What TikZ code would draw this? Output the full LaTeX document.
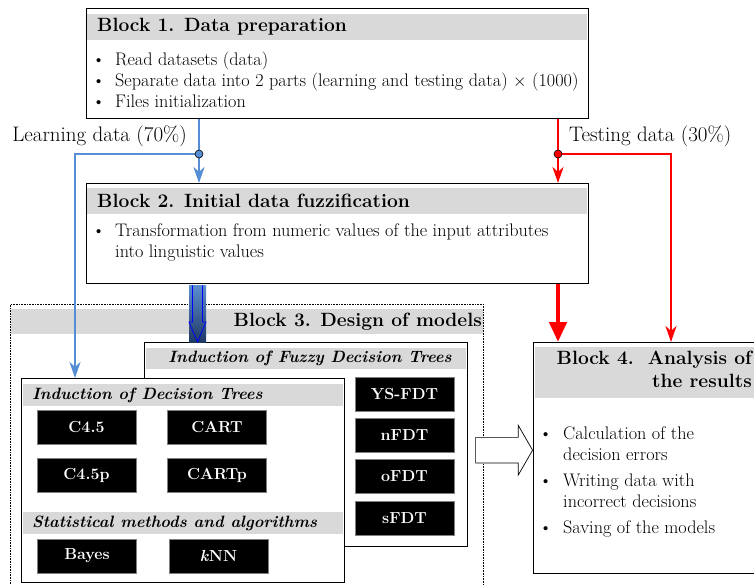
\documentclass[tikz,border=0pt]{standalone}
\usepackage{fontspec}
\usepackage{tikz}
\usetikzlibrary{arrows.meta,positioning,calc,shapes.arrows}
\definecolor{ink}{HTML}{000000}
\definecolor{bandgray}{HTML}{D9D9D9}
\definecolor{learnblue}{HTML}{558ED5}
\definecolor{testred}{HTML}{FF0000}
\definecolor{navy}{HTML}{1F3864}
\definecolor{steel}{HTML}{5B8FD0}
\tikzset{
  block/.style={draw=ink,line width=1.4pt,fill=white,anchor=north west,inner sep=0pt},
  band/.style={fill=bandgray,anchor=north west,inner sep=0pt},
  blocktitle/.style={font=\fontsize{19.2}{23}\selectfont\bfseries,inner sep=0pt},
  subtitle/.style={font=\fontsize{16.4}{18}\selectfont\bfseries\itshape,inner sep=0pt},
  bullets/.style={font=\fontsize{18.2}{21}\selectfont,align=left,inner sep=0pt,anchor=north west},
  lbl/.style={font=\fontsize{21}{23}\selectfont,inner sep=0pt},
  algo/.style={fill=black,draw=gray,line width=.4pt,text=white,minimum width=99pt,minimum height=34pt,inner sep=0pt,font=\fontsize{16}{18}\selectfont\bfseries},
  learn/.style={learnblue,line width=2.6pt},
  test/.style={testred,line width=2.6pt},
  splitdot/.style={circle,draw=ink,line width=.6pt,minimum size=8pt,inner sep=0pt},
  tip/.style={-{Stealth[length=16pt,width=11pt,inset=5pt]}},
}
\newcommand{\bitem}{\makebox[23pt][l]{\textbullet}}

\begin{document}
\begin{tikzpicture}[x=1pt,y=1pt]
  \useasboundingbox (0,0) rectangle (754,-584);
  \clip (0,0) rectangle (754,-584);
  % Block 1
  \node[block,minimum width=502pt,minimum height=110pt] (b1) at (86,-8) {};
  \node[band,minimum width=500pt,minimum height=26pt] (b1band) at (87,-14) {};
  \node[blocktitle,anchor=west] (b1title) at (97,-27) {Block 1. Data preparation};
  \node[bullets] (b1text) at (92,-51.5) {\bitem Read datasets (data)\\
    \bitem Separate data into 2 parts (learning and testing data) $\times$ (1000)\\
    \bitem Files initialization};
  % Block 2
  \node[block,minimum width=502pt,minimum height=100pt] (b2) at (86,-183) {};
  \node[band,minimum width=500pt,minimum height=26pt] (b2band) at (87,-188) {};
  \node[blocktitle,anchor=west] (b2title) at (97,-201) {Block 2. Initial data fuzzification};
  \node[bullets] (b2text) at (92,-224) {\bitem Transformation from numeric values of the input attributes\\
    \hspace*{23pt}into linguistic values};
  % Block 3
  \node[draw=ink,densely dotted,line width=.6pt,anchor=north west,minimum width=473pt,minimum height=300pt] (b3) at (10,-304) {};
  \node[band,minimum width=472pt,minimum height=25pt] (b3band) at (10.5,-309) {};
  \node[blocktitle,anchor=east] (b3title) at (482,-322) {Block 3. Design of models};
  \node[block,minimum width=323pt,minimum height=204pt] (fdt) at (144,-342) {};
  \node[band,minimum width=320pt,minimum height=21pt] (fdtband) at (145.5,-348) {};
  \node[subtitle] (fdttitle) at (310,-358) {Induction of Fuzzy Decision Trees};
  \node[block,minimum width=323pt,minimum height=204pt] (dt) at (21,-378) {};
  \node[band,minimum width=320pt,minimum height=22pt] (dtband) at (22.5,-384) {};
  \node[subtitle,anchor=west] (dttitle) at (32,-395) {Induction of Decision Trees};
  \node[band,minimum width=320pt,minimum height=22pt] (statband) at (22.5,-512) {};
  \node[subtitle,anchor=west] (stattitle) at (32,-523) {Statistical methods and algorithms};
  \node[algo] (c45) at (86.5,-427) {C4.5};
  \node[algo] (cart) at (217,-427) {CART};
  \node[algo] (c45p) at (86.5,-475) {C4.5p};
  \node[algo] (cartp) at (217,-475) {CARTp};
  \node[algo] (bayes) at (87,-556) {Bayes};
  \node[algo] (knn) at (218.5,-556) {\textit{k}NN};
  \node[algo] (ysfdt) at (404.5,-394) {YS-FDT};
  \node[algo] (nfdt) at (404.5,-435) {nFDT};
  \node[algo] (ofdt) at (404.5,-476) {oFDT};
  \node[algo] (sfdt) at (404.5,-518) {sFDT};
  % Block 4
  \node[block,minimum width=240pt,minimum height=231pt] (b4) at (533,-342) {};
  \node[band,minimum width=238pt,minimum height=51pt] (b4band) at (534.5,-347) {};
  \node[blocktitle,anchor=north east,align=right] (b4title) at (752,-351) {Block 4.\hspace{14pt}Analysis of\\the results};
  \node[bullets] (b4text) at (539,-427) {\makebox[24pt][l]{\textbullet}Calculation of the\\
    \hspace*{24pt}decision errors\\[5pt]
    \makebox[24pt][l]{\textbullet}Writing data with\\
    \hspace*{24pt}incorrect decisions\\[5pt]
    \makebox[24pt][l]{\textbullet}Saving of the models};
  \node[single arrow,draw=ink,fill=white,line width=.7pt,minimum height=57pt,
    single arrow head extend=12pt,single arrow tip angle=120,inner xsep=0pt,inner ysep=12.5pt,anchor=tip] (toresults)
    at ($(b4.west)+(0,8)$) {};
  % data split
  \node[lbl,anchor=east] (learnlbl) at (187,-136) {Learning data (70\%)};
  \node[lbl,anchor=west] (testlbl) at (569,-136) {Testing data (30\%)};
  \coordinate (lsplit) at (199,-154);
  \coordinate (lturn) at (75,-154);
  \coordinate (tsplit) at (558,-154);
  \coordinate (tturn) at (671,-154);
  \draw[learn] (lsplit |- b1.south) -- (lsplit);
  \draw[learn,tip] (lsplit) -- (lsplit |- b2.north);
  \draw[learn,tip] (lsplit) -- (lturn) -- (lturn |- dt.north);
  \draw[test] (tsplit |- b1.south) -- (tsplit);
  \draw[test,tip] (tsplit) -- (tsplit |- b2.north);
  \draw[test,tip] (tsplit) -- (tturn) -- (tturn |- b4.north);
  \node[splitdot,fill=learnblue] (ldot) at (lsplit) {};
  \node[splitdot,fill=testred] (tdot) at (tsplit) {};
  \draw[testred,line width=4.5pt,-{Triangle[length=20pt,width=17pt]}] (tsplit |- b2.south) -- (tsplit |- b4.north);
  % fuzzified data into block 3
  \coordinate (fx) at (197.5,-300);
  \shade[top color=steel,bottom color=navy] ($(fx |- b2.south)+(-8.5,-1)$) rectangle ($(fx |- fdt.north)+(8.5,0)$);
  \draw[blue,line width=.8pt] ($(fx |- b2.south)+(-5,-1)$) -- ($(fx |- fdt.north)+(-5,20)$) -- ($(fx |- fdt.north)+(-8.5,20)$)
    -- (fx |- fdt.north) -- ($(fx |- fdt.north)+(8.5,20)$) -- ($(fx |- fdt.north)+(5,20)$) -- ($(fx |- b2.south)+(5,-1)$);
\end{tikzpicture}
\end{document}
